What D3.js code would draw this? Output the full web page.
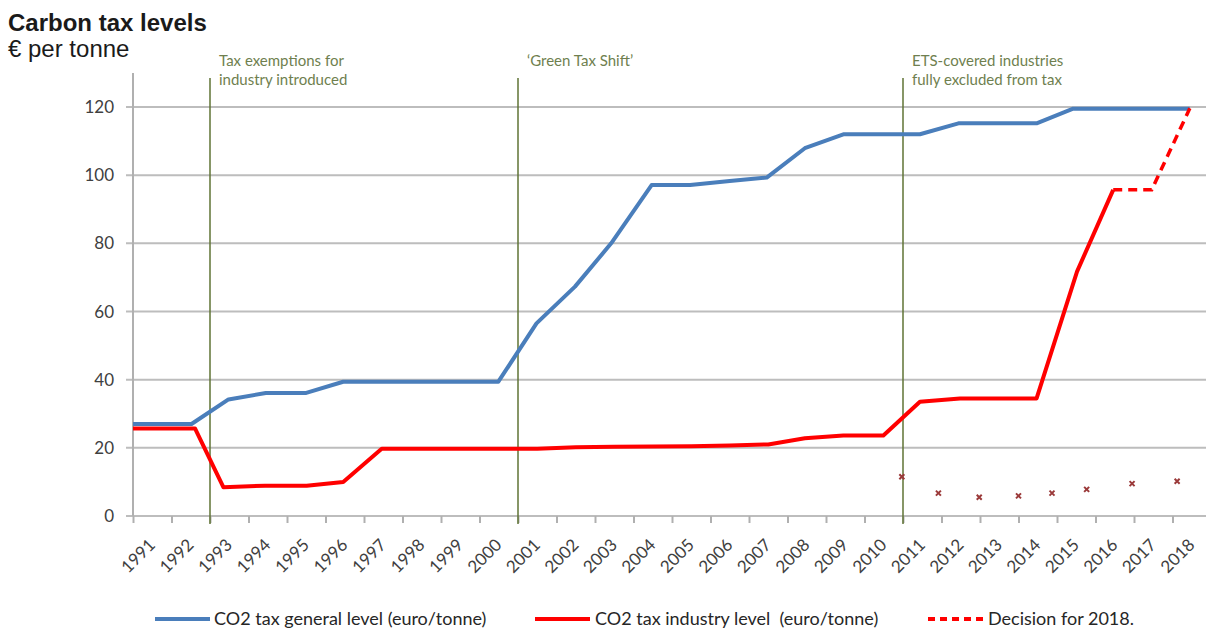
<!DOCTYPE html>
<html>
<head>
<meta charset="utf-8">
<script src="https://cdn.jsdelivr.net/npm/d3@7"></script>
<style>
  body { margin: 0; background: #fff; }
  svg { display: block; }
</style>
</head>
<body>
<div class="chart"></div>
<script>
// years shown on the axis
var years = d3.range(1991, 2019);
var yTicks = [0, 20, 40, 60, 80, 100, 120];

// general level (euro/tonne), position within the year axis
var generalT = [1991.0, 1992.52, 1993.48, 1994.45, 1995.5, 1996.46, 2000.49, 2001.48, 2002.48, 2003.42, 2004.47, 2005.47, 2006.5, 2007.46, 2008.45, 2009.45, 2011.44, 2012.44, 2014.47, 2015.42, 2018.45];
var generalV = [27, 27, 34.2, 36.1, 36.1, 39.4, 39.4, 56.5, 67.3, 80.0, 97.1, 97.1, 98.3, 99.3, 107.9, 112.0, 112.0, 115.2, 115.2, 119.5, 119.5];

// industry level (euro/tonne)
var industryT = [1991.0, 1992.61, 1993.35, 1994.43, 1995.51, 1996.46, 1997.46, 2001.5, 2002.5, 2003.5, 2004.5, 2005.5, 2006.5, 2007.5, 2008.45, 2009.45, 2010.49, 2011.44, 2012.48, 2014.47, 2015.52, 2016.46];
var industryV = [25.7, 25.7, 8.4, 8.9, 8.9, 10.0, 19.7, 19.7, 20.2, 20.3, 20.4, 20.5, 20.7, 21.0, 22.8, 23.6, 23.6, 33.5, 34.5, 34.5, 71.7, 95.7];

// decision for 2018 (dashed)
var decisionT = [2016.46, 2017.46, 2018.45];
var decisionV = [95.7, 95.7, 119.6];

// small cross markers
var markT = [2010.97, 2011.92, 2012.98, 2014.0, 2014.87, 2015.77, 2016.95, 2018.12];
var markV = [11.5, 6.7, 5.5, 5.9, 6.7, 7.8, 9.5, 10.2];

// vertical event lines
var eventT = [1993, 2001, 2011];
var eventText = [["Tax exemptions for", "industry introduced"], ["\u2018Green Tax Shift\u2019"], ["ETS-covered industries", "fully excluded from tax"]];

var legendNames = ["CO2 tax general level (euro/tonne)", "CO2 tax industry level  (euro/tonne)", "Decision for 2018."];

var W = 1206, H = 631;
var x = d3.scaleLinear().domain([1991, 2019]).range([133, 1211]);
var y = d3.scaleLinear().domain([0, 120]).range([516, 107]);

var svg = d3.select(".chart").append("svg")
    .attr("width", W)
    .attr("height", H)
    .style("font-family", "Lato, 'Open Sans', sans-serif");

// title
svg.append("text").attr("x", 8).attr("y", 31)
    .style("font-family", "'Liberation Sans', Arial, sans-serif")
    .style("font-size", "24px").style("font-weight", "bold").attr("fill", "#1a1a1a")
    .text("Carbon tax levels");
svg.append("text").attr("x", 8).attr("y", 57)
    .style("font-family", "'Liberation Sans', Arial, sans-serif")
    .style("font-size", "24px").attr("fill", "#1a1a1a")
    .text("\u20ac per tonne");

// gridlines
svg.append("g").selectAll("line")
    .data(yTicks)
    .enter().append("line")
    .attr("x1", 126).attr("x2", W)
    .attr("y1", function(d){ return y(d); })
    .attr("y2", function(d){ return y(d); })
    .attr("stroke", "#bdbdbd").attr("stroke-width", 2);

// y axis line
svg.append("line")
    .attr("x1", x(1991)).attr("x2", x(1991))
    .attr("y1", 73).attr("y2", y(0))
    .attr("stroke", "#b0b0b0").attr("stroke-width", 2);

svg.append("g").selectAll("text")
    .data(yTicks)
    .enter().append("text")
    .attr("x", 114)
    .attr("y", function(d){ return y(d) + 6; })
    .attr("text-anchor", "end")
    .attr("fill", "#404040")
    .style("font-size", "17px")
    .text(function(d){ return d; });

// x axis ticks
var xAxis = d3.axisBottom(x).tickValues(years).tickSize(7).tickFormat("");
var gx = svg.append("g").attr("transform", "translate(0," + y(0) + ")").call(xAxis);
gx.select(".domain").remove();
gx.selectAll(".tick line").attr("stroke", "#b0b0b0").attr("stroke-width", 2);

svg.append("g").selectAll("text")
    .data(years)
    .enter().append("text")
    .attr("transform", function(d){ return "translate(" + (x(d + 0.5) + 4) + ",546) rotate(-45)"; })
    .attr("text-anchor", "end")
    .attr("fill", "#404040")
    .style("font-size", "17px")
    .text(function(d){ return d; });

// event lines and notes
svg.append("g").selectAll("line")
    .data(eventT)
    .enter().append("line")
    .attr("x1", function(d){ return x(d); })
    .attr("x2", function(d){ return x(d); })
    .attr("y1", 78).attr("y2", 524)
    .attr("stroke", "#5f7335").attr("stroke-width", 1.5);

eventT.forEach(function(t, i){
    var note = svg.append("text")
        .attr("x", x(t) + 9)
        .attr("y", 66)
        .attr("fill", "#6f7f4f")
        .style("font-size", "15px");
    eventText[i].forEach(function(line, j){
        note.append("tspan").attr("x", x(t) + 9).attr("dy", j === 0 ? 0 : 19).text(line);
    });
});

var line = d3.line()
    .x(function(d){ return x(d[0]); })
    .y(function(d){ return y(d[1]); });

function pairs(t, v){ return t.map(function(d, i){ return [d, v[i]]; }); }

svg.append("path")
    .datum(pairs(generalT, generalV))
    .attr("d", line)
    .attr("fill", "none").attr("stroke", "#4a7ebb").attr("stroke-width", 4)
    .attr("stroke-linejoin", "round");

svg.append("path")
    .datum(pairs(industryT, industryV))
    .attr("d", line)
    .attr("fill", "none").attr("stroke", "#ff0000").attr("stroke-width", 4)
    .attr("stroke-linejoin", "round");

svg.append("path")
    .datum(pairs(decisionT, decisionV))
    .attr("d", line)
    .attr("fill", "none").attr("stroke", "#ff0000").attr("stroke-width", 3.5)
    .attr("stroke-dasharray", "9,6");

// cross markers
svg.append("g").selectAll("path")
    .data(pairs(markT, markV))
    .enter().append("path")
    .attr("d", function(d){
        var cx = x(d[0]), cy = y(d[1]), r = 2.5;
        return "M" + (cx - r) + "," + (cy - r) + "L" + (cx + r) + "," + (cy + r) +
               "M" + (cx - r) + "," + (cy + r) + "L" + (cx + r) + "," + (cy - r);
    })
    .attr("stroke", "#9b3a3a").attr("stroke-width", 2);

// legend
var legend = [
    {x1: 155, x2: 210, color: "#4a7ebb", dash: null, tx: 214},
    {x1: 535, x2: 590, color: "#ff0000", dash: null, tx: 595},
    {x1: 928, x2: 984, color: "#ff0000", dash: "7,5", tx: 988}
];
legend.forEach(function(l, i){
    svg.append("line")
        .attr("x1", l.x1).attr("x2", l.x2).attr("y1", 619).attr("y2", 619)
        .attr("stroke", l.color).attr("stroke-width", 4)
        .attr("stroke-dasharray", l.dash);
    svg.append("text")
        .attr("x", l.tx).attr("y", 625)
        .attr("fill", "#262626")
        .style("font-size", "18px")
        .style("white-space", "pre")
        .text(legendNames[i]);
});
</script>
</body>
</html>
